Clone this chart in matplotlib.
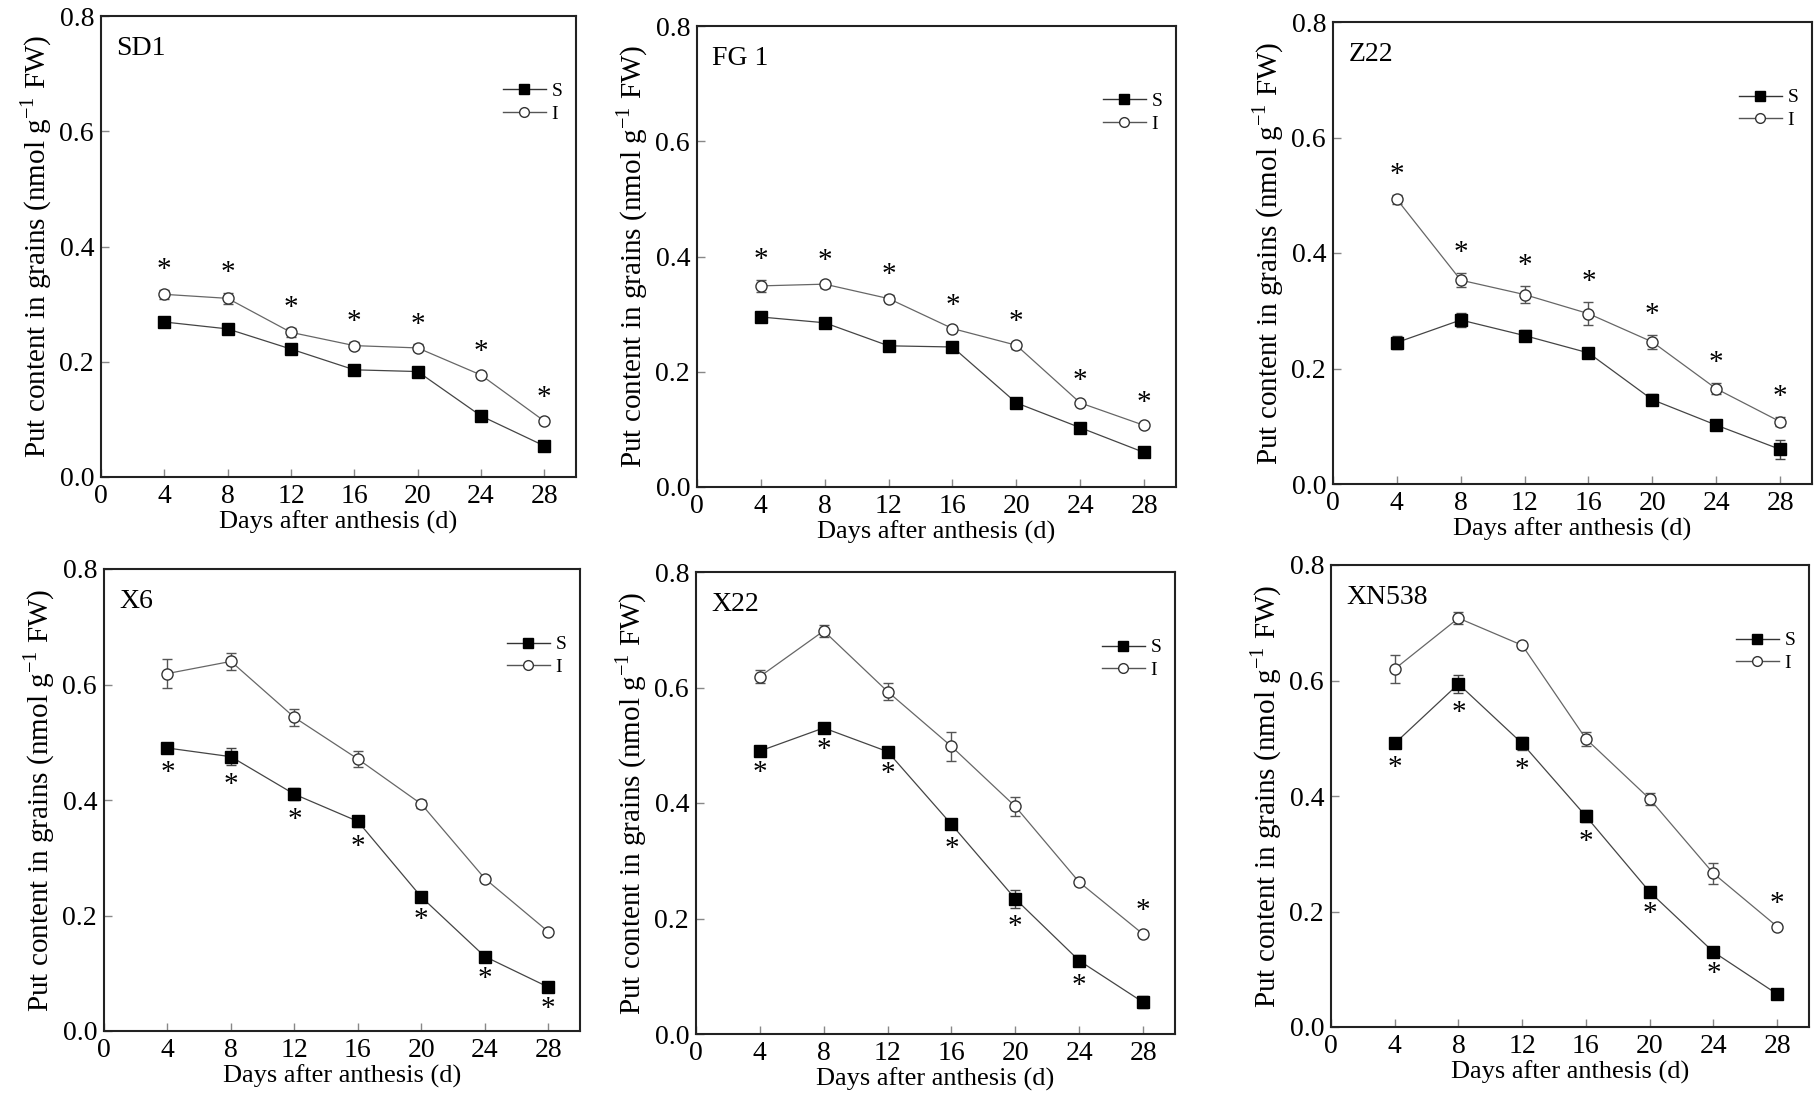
import numpy as np
import matplotlib
matplotlib.use("Agg")
import matplotlib.pyplot as plt
from matplotlib.lines import Line2D

plt.rcParams["font.family"] = ["Liberation Serif", "DejaVu Serif"]
plt.rcParams["mathtext.fontset"] = "custom"
plt.rcParams["mathtext.rm"] = "Liberation Serif"

# days after anthesis
days = [4, 8, 12, 16, 20, 24, 28]
x_ticks = [0, 4, 8, 12, 16, 20, 24, 28]
y_ticks = [0.0, 0.2, 0.4, 0.6, 0.8]

cultivars = ["SD1", "FG 1", "Z22", "X6", "X22", "XN538"]

# S (filled square) series
sd1_s = [0.269, 0.257, 0.222, 0.186, 0.183, 0.106, 0.054]
fg1_s = [0.295, 0.285, 0.245, 0.243, 0.146, 0.103, 0.060]
z22_s = [0.245, 0.284, 0.257, 0.227, 0.146, 0.102, 0.060]
x6_s = [0.490, 0.475, 0.410, 0.363, 0.232, 0.129, 0.076]
x22_s = [0.490, 0.530, 0.489, 0.363, 0.234, 0.127, 0.055]
xn538_s = [0.491, 0.594, 0.491, 0.365, 0.234, 0.130, 0.057]

sd1_s_err = [0.006, 0.005, 0.005, 0.004, 0.004, 0.004, 0.003]
fg1_s_err = [0.004, 0.006, 0.004, 0.004, 0.004, 0.004, 0.003]
z22_s_err = [0.012, 0.012, 0.010, 0.005, 0.010, 0.007, 0.017]
x6_s_err = [0.008, 0.015, 0.010, 0.010, 0.005, 0.005, 0.004]
x22_s_err = [0.004, 0.004, 0.004, 0.008, 0.015, 0.010, 0.010]
xn538_s_err = [0.008, 0.015, 0.012, 0.010, 0.004, 0.004, 0.003]

# I (open circle) series
sd1_i = [0.317, 0.310, 0.251, 0.228, 0.224, 0.177, 0.097]
fg1_i = [0.349, 0.352, 0.327, 0.275, 0.246, 0.146, 0.107]
z22_i = [0.493, 0.353, 0.328, 0.295, 0.246, 0.165, 0.108]
x6_i = [0.619, 0.640, 0.543, 0.471, 0.393, 0.264, 0.172]
x22_i = [0.619, 0.698, 0.593, 0.498, 0.394, 0.263, 0.173]
xn538_i = [0.620, 0.708, 0.661, 0.499, 0.395, 0.266, 0.174]

sd1_i_err = [0.008, 0.010, 0.008, 0.006, 0.006, 0.005, 0.005]
fg1_i_err = [0.010, 0.006, 0.006, 0.005, 0.006, 0.004, 0.004]
z22_i_err = [0.008, 0.012, 0.015, 0.020, 0.012, 0.010, 0.008]
x6_i_err = [0.025, 0.015, 0.015, 0.013, 0.007, 0.005, 0.004]
x22_i_err = [0.012, 0.010, 0.015, 0.025, 0.017, 0.005, 0.005]
xn538_i_err = [0.025, 0.010, 0.004, 0.012, 0.010, 0.018, 0.004]

# where the significance star sits: "I" = above I series, "S" = below S series
sd1_star = ["I"] * 7
fg1_star = ["I"] * 7
z22_star = ["I"] * 7
x6_star = ["S"] * 7
x22_star = ["S", "S", "S", "S", "S", "S", "I"]
xn538_star = ["S", "S", "S", "S", "S", "S", "I"]

s_data = [sd1_s, fg1_s, z22_s, x6_s, x22_s, xn538_s]
s_errs = [sd1_s_err, fg1_s_err, z22_s_err, x6_s_err, x22_s_err, xn538_s_err]
i_data = [sd1_i, fg1_i, z22_i, x6_i, x22_i, xn538_i]
i_errs = [sd1_i_err, fg1_i_err, z22_i_err, x6_i_err, x22_i_err, xn538_i_err]
stars = [sd1_star, fg1_star, z22_star, x6_star, x22_star, xn538_star]

# axes boxes in pixels (left, top, right, bottom)
W, H = 1815, 1105
boxes = [
    (101, 16, 576, 477),
    (697, 26, 1176, 487),
    (1333, 22, 1812, 484),
    (104, 569, 580, 1031),
    (696, 572, 1175, 1034),
    (1331, 565, 1809, 1027),
]

fig = plt.figure(figsize=(W / 100, H / 100), dpi=100)
fig.patch.set_facecolor("white")

for k in range(6):
    l, t, r, b = boxes[k]
    ax = fig.add_axes([l / W, 1 - b / H, (r - l) / W, (b - t) / H])

    s = np.array(s_data[k])
    se = np.array(s_errs[k])
    iv = np.array(i_data[k])
    ie = np.array(i_errs[k])

    ax.errorbar(days, s, yerr=se, color="#444444", lw=0.9, marker="s",
                ms=8, mfc="black", mec="black", ecolor="#444444",
                elinewidth=1.0, capsize=3.5, zorder=3)
    ax.errorbar(days, iv, yerr=ie, color="#666666", lw=0.9, marker="o",
                ms=8, mfc="white", mec="#333333", mew=1.0, ecolor="#555555",
                elinewidth=1.0, capsize=3.5, zorder=3)

    for j, d in enumerate(days):
        if stars[k][j] == "I":
            ax.annotate("*", (d, iv[j] + ie[j]), xytext=(0, 5),
                        textcoords="offset points", ha="center", va="bottom",
                        fontsize=21)
        else:
            ax.annotate("*", (d, s[j] - se[j]), xytext=(0, -5),
                        textcoords="offset points", ha="center", va="top",
                        fontsize=21)

    ax.set_xlim(0, 30)
    ax.set_ylim(0, 0.8)
    ax.set_xticks(x_ticks)
    ax.set_yticks(y_ticks)
    ax.set_yticklabels([f"{v:.1f}" for v in y_ticks])
    ax.tick_params(direction="in", length=6, width=1, color="#888888",
                   labelsize=20, pad=5)
    for sp in ax.spines.values():
        sp.set_linewidth(1.5)
        sp.set_color("#222222")

    ax.set_xlabel("Days after anthesis (d)", fontsize=19, labelpad=1)
    ax.set_ylabel("Put content in grains (nmol g$^{-1}$ FW)", fontsize=21,
                  labelpad=4)
    ax.text(0.032, 0.93, cultivars[k], transform=ax.transAxes,
            fontsize=20, ha="left", va="center")

    handles = [
        Line2D([], [], color="#333333", lw=1.0, marker="s", ms=7,
               mfc="black", mec="black"),
        Line2D([], [], color="#555555", lw=1.0, marker="o", ms=7,
               mfc="white", mec="#333333"),
    ]
    ax.legend(handles, ["S", "I"], loc="upper right",
              bbox_to_anchor=(1.0, 0.885), frameon=False, fontsize=14,
              handlelength=2.2, handletextpad=0.3, labelspacing=0.25,
              borderaxespad=0.3)

fig.savefig("out.png", dpi=100, facecolor="white")
